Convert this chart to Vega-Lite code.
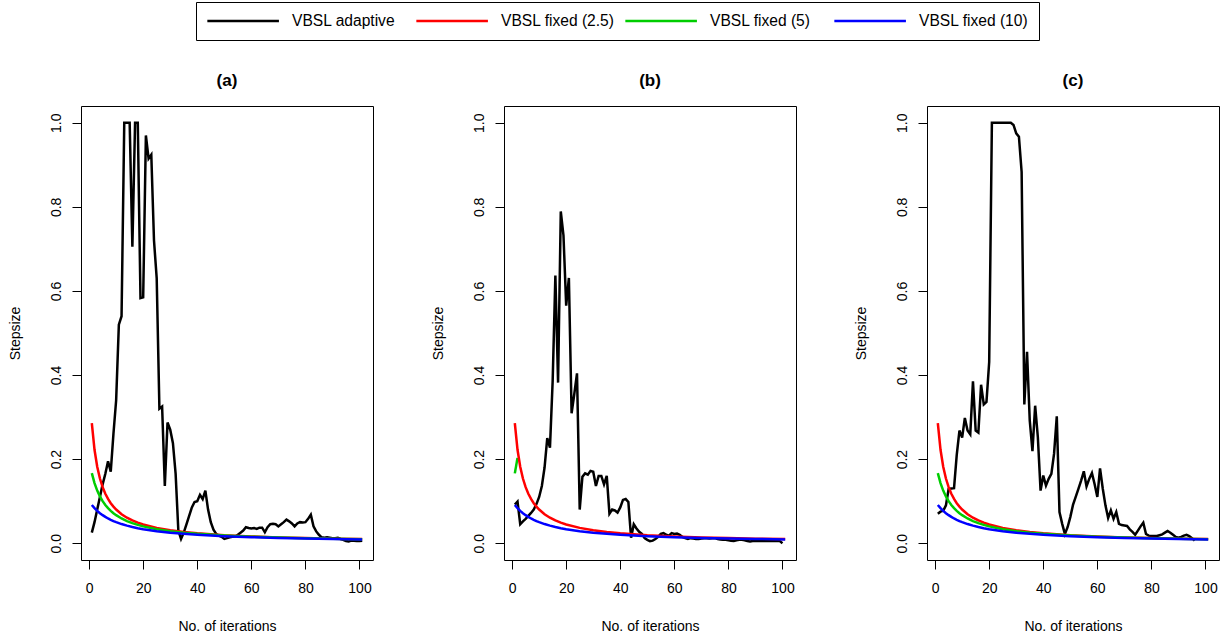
{
"$schema": "https://vega.github.io/schema/vega-lite/v6.json",
"padding": {"left": 7, "top": 1, "right": 0, "bottom": 0},
"config": {
  "font": "Liberation Sans",
  "view": {"stroke": "black", "strokeWidth": 1},
  "axis": {"domain": false, "grid": false, "tickColor": "black", "tickSize": 9, "tickWidth": 1, "labelFontSize": 14, "labelColor": "black", "titleFontSize": 14, "titleFontWeight": "normal", "titleColor": "black"},
  "axisX": {"labelPadding": 12, "titleY": 70, "titleBaseline": "alphabetic"},
  "axisY": {"labelAngle": 270, "labelAlign": "center", "labelBaseline": "bottom", "labelPadding": 9, "titleAngle": 270, "titleX": -59, "titleY": 227, "titleAlign": "center", "titleBaseline": "bottom"},
  "title": {"fontSize": 17, "fontWeight": "bold", "color": "black", "offset": 16, "anchor": "middle"},
  "legend": {"labelColor": "black"}
},
"datasets": {
 "fixed": [
  {"series":"VBSL fixed (2.5)","x":1,"y":0.2857},{"series":"VBSL fixed (2.5)","x":2,"y":0.2222},{"series":"VBSL fixed (2.5)","x":3,"y":0.1818},{"series":"VBSL fixed (2.5)","x":4,"y":0.1538},{"series":"VBSL fixed (2.5)","x":5,"y":0.1333},{"series":"VBSL fixed (2.5)","x":6,"y":0.1176},{"series":"VBSL fixed (2.5)","x":7,"y":0.1053},{"series":"VBSL fixed (2.5)","x":8,"y":0.0952},{"series":"VBSL fixed (2.5)","x":9,"y":0.087},{"series":"VBSL fixed (2.5)","x":10,"y":0.08},{"series":"VBSL fixed (2.5)","x":12,"y":0.069},{"series":"VBSL fixed (2.5)","x":14,"y":0.0606},{"series":"VBSL fixed (2.5)","x":16,"y":0.0541},{"series":"VBSL fixed (2.5)","x":18,"y":0.0488},{"series":"VBSL fixed (2.5)","x":20,"y":0.0444},{"series":"VBSL fixed (2.5)","x":25,"y":0.0364},{"series":"VBSL fixed (2.5)","x":30,"y":0.0308},{"series":"VBSL fixed (2.5)","x":35,"y":0.0267},{"series":"VBSL fixed (2.5)","x":40,"y":0.0235},{"series":"VBSL fixed (2.5)","x":50,"y":0.019},{"series":"VBSL fixed (2.5)","x":60,"y":0.016},{"series":"VBSL fixed (2.5)","x":70,"y":0.0138},{"series":"VBSL fixed (2.5)","x":80,"y":0.0121},{"series":"VBSL fixed (2.5)","x":90,"y":0.0108},{"series":"VBSL fixed (2.5)","x":101,"y":0.0097},
  {"series":"VBSL fixed (5)","x":1,"y":0.1667},{"series":"VBSL fixed (5)","x":2,"y":0.1429},{"series":"VBSL fixed (5)","x":3,"y":0.125},{"series":"VBSL fixed (5)","x":4,"y":0.1111},{"series":"VBSL fixed (5)","x":5,"y":0.1},{"series":"VBSL fixed (5)","x":6,"y":0.0909},{"series":"VBSL fixed (5)","x":7,"y":0.0833},{"series":"VBSL fixed (5)","x":8,"y":0.0769},{"series":"VBSL fixed (5)","x":9,"y":0.0714},{"series":"VBSL fixed (5)","x":10,"y":0.0667},{"series":"VBSL fixed (5)","x":12,"y":0.0588},{"series":"VBSL fixed (5)","x":14,"y":0.0526},{"series":"VBSL fixed (5)","x":16,"y":0.0476},{"series":"VBSL fixed (5)","x":18,"y":0.0435},{"series":"VBSL fixed (5)","x":20,"y":0.04},{"series":"VBSL fixed (5)","x":25,"y":0.0333},{"series":"VBSL fixed (5)","x":30,"y":0.0286},{"series":"VBSL fixed (5)","x":35,"y":0.025},{"series":"VBSL fixed (5)","x":40,"y":0.0222},{"series":"VBSL fixed (5)","x":50,"y":0.0182},{"series":"VBSL fixed (5)","x":60,"y":0.0154},{"series":"VBSL fixed (5)","x":70,"y":0.0133},{"series":"VBSL fixed (5)","x":80,"y":0.0118},{"series":"VBSL fixed (5)","x":90,"y":0.0105},{"series":"VBSL fixed (5)","x":101,"y":0.0094},
  {"series":"VBSL fixed (10)","x":1,"y":0.0909},{"series":"VBSL fixed (10)","x":2,"y":0.0833},{"series":"VBSL fixed (10)","x":3,"y":0.0769},{"series":"VBSL fixed (10)","x":4,"y":0.0714},{"series":"VBSL fixed (10)","x":5,"y":0.0667},{"series":"VBSL fixed (10)","x":6,"y":0.0625},{"series":"VBSL fixed (10)","x":7,"y":0.0588},{"series":"VBSL fixed (10)","x":8,"y":0.0556},{"series":"VBSL fixed (10)","x":9,"y":0.0526},{"series":"VBSL fixed (10)","x":10,"y":0.05},{"series":"VBSL fixed (10)","x":12,"y":0.0455},{"series":"VBSL fixed (10)","x":14,"y":0.0417},{"series":"VBSL fixed (10)","x":16,"y":0.0385},{"series":"VBSL fixed (10)","x":18,"y":0.0357},{"series":"VBSL fixed (10)","x":20,"y":0.0333},{"series":"VBSL fixed (10)","x":25,"y":0.0286},{"series":"VBSL fixed (10)","x":30,"y":0.025},{"series":"VBSL fixed (10)","x":35,"y":0.0222},{"series":"VBSL fixed (10)","x":40,"y":0.02},{"series":"VBSL fixed (10)","x":50,"y":0.0167},{"series":"VBSL fixed (10)","x":60,"y":0.0143},{"series":"VBSL fixed (10)","x":70,"y":0.0125},{"series":"VBSL fixed (10)","x":80,"y":0.0111},{"series":"VBSL fixed (10)","x":90,"y":0.0101},{"series":"VBSL fixed (10)","x":101,"y":0.009}
 ],
 "greenB": [{"x":1,"y":0.166},{"x":2,"y":0.203}],
 "a": [
  {"x":1,"y":0.025},{"x":2,"y":0.05},{"x":3,"y":0.08},{"x":4,"y":0.11},{"x":5,"y":0.14},{"x":6,"y":0.165},{"x":7,"y":0.195},{"x":8,"y":0.17},{"x":9,"y":0.26},{"x":10,"y":0.34},
  {"x":11,"y":0.52},{"x":12,"y":0.54},{"x":13,"y":1.0},{"x":14,"y":1.0},{"x":15,"y":1.0},{"x":16,"y":0.705},{"x":17,"y":1.0},{"x":18,"y":1.0},{"x":19,"y":0.583},{"x":20,"y":0.585},
  {"x":21,"y":0.97},{"x":22,"y":0.915},{"x":23,"y":0.924},{"x":24,"y":0.72},{"x":25,"y":0.63},{"x":26,"y":0.32},{"x":27,"y":0.325},{"x":28,"y":0.136},{"x":29,"y":0.287},{"x":30,"y":0.27},
  {"x":31,"y":0.238},{"x":32,"y":0.165},{"x":33,"y":0.03},{"x":34,"y":0.01},{"x":35,"y":0.025},{"x":36,"y":0.045},{"x":37,"y":0.065},{"x":38,"y":0.085},{"x":39,"y":0.098},{"x":40,"y":0.1},
  {"x":41,"y":0.115},{"x":42,"y":0.105},{"x":43,"y":0.125},{"x":44,"y":0.08},{"x":45,"y":0.05},{"x":46,"y":0.032},{"x":47,"y":0.022},{"x":48,"y":0.018},{"x":49,"y":0.015},{"x":50,"y":0.01},
  {"x":51,"y":0.012},{"x":52,"y":0.014},{"x":53,"y":0.015},{"x":54,"y":0.016},{"x":55,"y":0.02},{"x":56,"y":0.025},{"x":57,"y":0.03},{"x":58,"y":0.038},{"x":59,"y":0.036},{"x":60,"y":0.035},
  {"x":61,"y":0.036},{"x":62,"y":0.034},{"x":63,"y":0.037},{"x":64,"y":0.037},{"x":65,"y":0.026},{"x":66,"y":0.038},{"x":67,"y":0.045},{"x":68,"y":0.046},{"x":69,"y":0.045},{"x":70,"y":0.04},
  {"x":71,"y":0.045},{"x":72,"y":0.05},{"x":73,"y":0.056},{"x":74,"y":0.052},{"x":75,"y":0.047},{"x":76,"y":0.04},{"x":77,"y":0.047},{"x":78,"y":0.05},{"x":79,"y":0.049},{"x":80,"y":0.05},
  {"x":81,"y":0.058},{"x":82,"y":0.068},{"x":83,"y":0.04},{"x":84,"y":0.028},{"x":85,"y":0.02},{"x":86,"y":0.014},{"x":87,"y":0.013},{"x":88,"y":0.014},{"x":89,"y":0.013},{"x":90,"y":0.012},
  {"x":91,"y":0.012},{"x":92,"y":0.013},{"x":93,"y":0.01},{"x":94,"y":0.008},{"x":95,"y":0.005},{"x":96,"y":0.004},{"x":97,"y":0.006},{"x":98,"y":0.006},{"x":99,"y":0.005},{"x":100,"y":0.005},{"x":101,"y":0.006}
 ],
 "b": [
  {"x":1,"y":0.092},{"x":2,"y":0.099},{"x":3,"y":0.045},{"x":4,"y":0.052},{"x":5,"y":0.058},{"x":6,"y":0.065},{"x":7,"y":0.072},{"x":8,"y":0.08},{"x":9,"y":0.093},{"x":10,"y":0.11},
  {"x":11,"y":0.136},{"x":12,"y":0.18},{"x":13,"y":0.25},{"x":14,"y":0.227},{"x":15,"y":0.386},{"x":16,"y":0.637},{"x":17,"y":0.382},{"x":18,"y":0.789},{"x":19,"y":0.732},{"x":20,"y":0.565},
  {"x":21,"y":0.631},{"x":22,"y":0.309},{"x":23,"y":0.355},{"x":24,"y":0.404},{"x":25,"y":0.08},{"x":26,"y":0.158},{"x":27,"y":0.166},{"x":28,"y":0.163},{"x":29,"y":0.172},{"x":30,"y":0.17},
  {"x":31,"y":0.136},{"x":32,"y":0.16},{"x":33,"y":0.16},{"x":34,"y":0.14},{"x":35,"y":0.16},{"x":36,"y":0.07},{"x":37,"y":0.08},{"x":38,"y":0.078},{"x":39,"y":0.073},{"x":40,"y":0.085},
  {"x":41,"y":0.103},{"x":42,"y":0.105},{"x":43,"y":0.098},{"x":44,"y":0.013},{"x":45,"y":0.045},{"x":46,"y":0.035},{"x":47,"y":0.027},{"x":48,"y":0.022},{"x":49,"y":0.012},{"x":50,"y":0.008},
  {"x":51,"y":0.005},{"x":52,"y":0.006},{"x":53,"y":0.01},{"x":54,"y":0.015},{"x":55,"y":0.022},{"x":56,"y":0.024},{"x":57,"y":0.02},{"x":58,"y":0.018},{"x":59,"y":0.024},{"x":60,"y":0.022},
  {"x":61,"y":0.023},{"x":62,"y":0.02},{"x":63,"y":0.015},{"x":64,"y":0.012},{"x":65,"y":0.01},{"x":66,"y":0.012},{"x":67,"y":0.011},{"x":68,"y":0.01},{"x":69,"y":0.01},{"x":70,"y":0.011},
  {"x":71,"y":0.012},{"x":72,"y":0.012},{"x":73,"y":0.011},{"x":74,"y":0.012},{"x":75,"y":0.012},{"x":76,"y":0.01},{"x":77,"y":0.009},{"x":78,"y":0.008},{"x":79,"y":0.008},{"x":80,"y":0.007},
  {"x":81,"y":0.006},{"x":82,"y":0.005},{"x":83,"y":0.007},{"x":84,"y":0.008},{"x":85,"y":0.008},{"x":86,"y":0.007},{"x":87,"y":0.005},{"x":88,"y":0.004},{"x":89,"y":0.005},{"x":90,"y":0.006},
  {"x":91,"y":0.005},{"x":92,"y":0.005},{"x":93,"y":0.005},{"x":94,"y":0.006},{"x":95,"y":0.005},{"x":96,"y":0.005},{"x":97,"y":0.005},{"x":98,"y":0.006},{"x":99,"y":0.005},{"x":100,"y":0.0}
 ],
 "c": [
  {"x":1,"y":0.07},{"x":2,"y":0.075},{"x":3,"y":0.077},{"x":4,"y":0.09},{"x":5,"y":0.129},{"x":6,"y":0.13},{"x":7,"y":0.131},{"x":8,"y":0.21},{"x":9,"y":0.268},{"x":10,"y":0.251},
  {"x":11,"y":0.298},{"x":12,"y":0.268},{"x":13,"y":0.259},{"x":14,"y":0.385},{"x":15,"y":0.268},{"x":16,"y":0.263},{"x":17,"y":0.377},{"x":18,"y":0.33},{"x":19,"y":0.336},{"x":20,"y":0.431},
  {"x":21,"y":1.0},{"x":22,"y":1.0},{"x":23,"y":1.0},{"x":24,"y":1.0},{"x":25,"y":1.0},{"x":26,"y":1.0},{"x":27,"y":1.0},{"x":28,"y":1.0},{"x":29,"y":0.995},{"x":30,"y":0.975},
  {"x":31,"y":0.967},{"x":32,"y":0.883},{"x":33,"y":0.33},{"x":34,"y":0.455},{"x":35,"y":0.292},{"x":36,"y":0.219},{"x":37,"y":0.327},{"x":38,"y":0.252},{"x":39,"y":0.125},{"x":40,"y":0.161},
  {"x":41,"y":0.137},{"x":42,"y":0.153},{"x":43,"y":0.165},{"x":44,"y":0.213},{"x":45,"y":0.302},{"x":46,"y":0.074},{"x":47,"y":0.046},{"x":48,"y":0.022},{"x":49,"y":0.038},{"x":50,"y":0.062},
  {"x":51,"y":0.091},{"x":52,"y":0.11},{"x":53,"y":0.129},{"x":54,"y":0.149},{"x":55,"y":0.171},{"x":56,"y":0.135},{"x":57,"y":0.153},{"x":58,"y":0.167},{"x":59,"y":0.14},{"x":60,"y":0.11},
  {"x":61,"y":0.178},{"x":62,"y":0.13},{"x":63,"y":0.09},{"x":64,"y":0.06},{"x":65,"y":0.078},{"x":66,"y":0.058},{"x":67,"y":0.074},{"x":68,"y":0.046},{"x":69,"y":0.043},{"x":70,"y":0.042},
  {"x":71,"y":0.041},{"x":72,"y":0.033},{"x":73,"y":0.027},{"x":74,"y":0.02},{"x":75,"y":0.03},{"x":76,"y":0.04},{"x":77,"y":0.049},{"x":78,"y":0.022},{"x":79,"y":0.018},{"x":80,"y":0.017},
  {"x":81,"y":0.017},{"x":82,"y":0.017},{"x":83,"y":0.019},{"x":84,"y":0.021},{"x":85,"y":0.025},{"x":86,"y":0.029},{"x":87,"y":0.025},{"x":88,"y":0.02},{"x":89,"y":0.015},{"x":90,"y":0.013},
  {"x":91,"y":0.015},{"x":92,"y":0.018},{"x":93,"y":0.02},{"x":94,"y":0.017},{"x":95,"y":0.012},{"x":96,"y":0.006}
 ]
},
"spacing": 131,
"bounds": "flush",
"resolve": {"scale": {"color": "shared"}},
"hconcat": [
 {
  "title": "(a)",
  "width": 292, "height": 454,
  "layer": [
   {"data": {"name": "a"}, "mark": {"type": "line", "strokeWidth": 2.5},
    "encoding": {
     "x": {"field": "x", "type": "quantitative", "scale": {"domain": [-3, 105], "nice": false, "zero": false}, "axis": {"values": [0, 20, 40, 60, 80, 100], "title": "No. of iterations"}},
     "y": {"field": "y", "type": "quantitative", "scale": {"domain": [-0.04, 1.04], "nice": false, "zero": false}, "axis": {"values": [0, 0.2, 0.4, 0.6, 0.8, 1], "format": ".1f", "title": "Stepsize"}},
     "color": {"datum": "VBSL adaptive", "type": "nominal", "title": null,
      "scale": {"domain": ["VBSL adaptive", "VBSL fixed (2.5)", "VBSL fixed (5)", "VBSL fixed (10)"], "range": ["#000000", "#FF0000", "#00CD00", "#0000FF"]},
      "legend": {"orient": "none", "legendX": 115, "legendY": -104, "direction": "horizontal", "columns": 4, "title": null, "symbolType": "M-1,0H9", "symbolSize": 205, "symbolStrokeWidth": 2.5, "labelFontSize": 15.6, "labelOffset": 69, "columnPadding": 5, "gridAlign": "all", "strokeColor": "black", "padding": 10, "labelLimit": 300}}
    }},
   {"data": {"name": "fixed"}, "mark": {"type": "line", "strokeWidth": 2.5},
    "encoding": {
     "x": {"field": "x", "type": "quantitative"},
     "y": {"field": "y", "type": "quantitative"},
     "color": {"field": "series", "type": "nominal", "title": null}
    }}
  ]
 },
 {
  "title": "(b)",
  "width": 292, "height": 454,
  "layer": [
   {"data": {"name": "b"}, "mark": {"type": "line", "strokeWidth": 2.5},
    "encoding": {
     "x": {"field": "x", "type": "quantitative", "scale": {"domain": [-3, 105], "nice": false, "zero": false}, "axis": {"values": [0, 20, 40, 60, 80, 100], "title": "No. of iterations"}},
     "y": {"field": "y", "type": "quantitative", "scale": {"domain": [-0.04, 1.04], "nice": false, "zero": false}, "axis": {"values": [0, 0.2, 0.4, 0.6, 0.8, 1], "format": ".1f", "title": "Stepsize"}},
     "color": {"datum": "VBSL adaptive", "type": "nominal", "title": null}
    }},
   {"data": {"name": "greenB"}, "mark": {"type": "line", "strokeWidth": 2.5},
    "encoding": {
     "x": {"field": "x", "type": "quantitative"},
     "y": {"field": "y", "type": "quantitative"},
     "color": {"datum": "VBSL fixed (5)", "type": "nominal", "title": null}
    }},
   {"data": {"name": "fixed"}, "transform": [{"filter": "datum.series != 'VBSL fixed (5)'"}], "mark": {"type": "line", "strokeWidth": 2.5},
    "encoding": {
     "x": {"field": "x", "type": "quantitative"},
     "y": {"field": "y", "type": "quantitative"},
     "color": {"field": "series", "type": "nominal", "title": null}
    }}
  ]
 },
 {
  "title": "(c)",
  "width": 292, "height": 454,
  "layer": [
   {"data": {"name": "c"}, "mark": {"type": "line", "strokeWidth": 2.5},
    "encoding": {
     "x": {"field": "x", "type": "quantitative", "scale": {"domain": [-3, 105], "nice": false, "zero": false}, "axis": {"values": [0, 20, 40, 60, 80, 100], "title": "No. of iterations"}},
     "y": {"field": "y", "type": "quantitative", "scale": {"domain": [-0.04, 1.04], "nice": false, "zero": false}, "axis": {"values": [0, 0.2, 0.4, 0.6, 0.8, 1], "format": ".1f", "title": "Stepsize"}},
     "color": {"datum": "VBSL adaptive", "type": "nominal", "title": null}
    }},
   {"data": {"name": "fixed"}, "mark": {"type": "line", "strokeWidth": 2.5},
    "encoding": {
     "x": {"field": "x", "type": "quantitative"},
     "y": {"field": "y", "type": "quantitative"},
     "color": {"field": "series", "type": "nominal", "title": null}
    }}
  ]
 }
]
}
